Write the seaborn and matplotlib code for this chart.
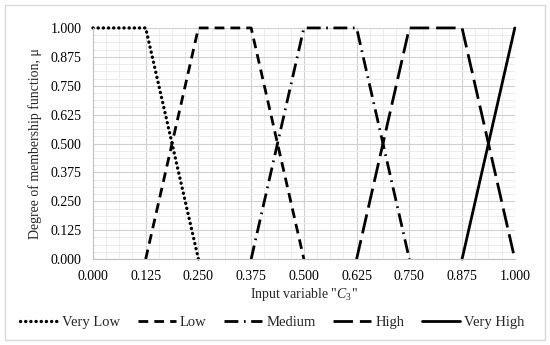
import seaborn as sns
import matplotlib.pyplot as plt
import matplotlib.ticker as mticker
from matplotlib.patches import Rectangle
import pandas as pd

# -----------------------------------
# Membership functions (breakpoints)
# -----------------------------------
very_low_x = [0.0, 0.125, 0.25]
very_low_y = [1.0, 1.0, 0.0]
low_x = [0.125, 0.25, 0.375, 0.5]
low_y = [0.0, 1.0, 1.0, 0.0]
medium_x = [0.375, 0.5, 0.625, 0.75]
medium_y = [0.0, 1.0, 1.0, 0.0]
high_x = [0.625, 0.75, 0.875, 1.0]
high_y = [0.0, 1.0, 1.0, 0.0]
very_high_x = [0.875, 1.0]
very_high_y = [0.0, 1.0]

labels = ["Very Low", "Low", "Medium", "High", "Very High"]
xs = [very_low_x, low_x, medium_x, high_x, very_high_x]
ys = [very_low_y, low_y, medium_y, high_y, very_high_y]

rows = []
for lab, xx, yy in zip(labels, xs, ys):
    for a, b in zip(xx, yy):
        rows.append({"set": lab, "x": a, "mu": b})
df = pd.DataFrame(rows)

sns.set_style("white")
plt.rcParams["font.family"] = ["Liberation Serif", "DejaVu Serif"]
plt.rcParams["mathtext.fontset"] = "custom"
plt.rcParams["mathtext.it"] = "Liberation Serif:italic"
plt.rcParams["mathtext.rm"] = "Liberation Serif"

# -----------------------------------
# Figure
# -----------------------------------
fig = plt.figure(figsize=(5.5, 3.45), dpi=100)
ax = fig.add_axes([0.169, 0.249, 0.767, 0.670])

fig.patches.append(Rectangle((0.009, 0.015), 0.982, 0.97, transform=fig.transFigure,
                             fill=False, edgecolor="#d9d9d9", linewidth=1))

dashes = {
    "Very Low": (0.05, 1.5),
    "Low": (3.5, 2.2),
    "Medium": (5, 2, 0.6, 2),
    "High": (7, 2.5),
    "Very High": "",
}
sns.lineplot(data=df, x="x", y="mu", hue="set", style="set", sort=False,
             units="set", estimator=None, palette=["black"] * 5,
             dashes=dashes, linewidth=2, ax=ax, legend=False)
for ln in ax.lines:
    ln.set_clip_on(False)
ax.lines[0].set_dash_capstyle("round")
ax.lines[0].set_linewidth(2.4)

# -----------------------------------
# Axes / grid
# -----------------------------------
ax.set_xlim(0, 1)
ax.set_ylim(0, 1)
ax.xaxis.set_major_locator(mticker.MultipleLocator(0.125))
ax.yaxis.set_major_locator(mticker.MultipleLocator(0.125))
ax.xaxis.set_minor_locator(mticker.MultipleLocator(0.03125))
ax.yaxis.set_minor_locator(mticker.MultipleLocator(0.03125))
ax.xaxis.set_major_formatter(mticker.FormatStrFormatter("%.3f"))
ax.yaxis.set_major_formatter(mticker.FormatStrFormatter("%.3f"))
ax.grid(which="major", color="#d0d0d0", linewidth=0.8)
ax.grid(which="minor", color="#ececec", linewidth=0.7)
ax.set_axisbelow(True)

for s in ["top", "right"]:
    ax.spines[s].set_visible(False)
for s in ["left", "bottom"]:
    ax.spines[s].set_color("#bfbfbf")
    ax.spines[s].set_linewidth(0.8)

ax.tick_params(which="major", direction="out", length=4, width=0.8,
               colors="#bfbfbf", labelsize=10, labelcolor="black", pad=4)
ax.tick_params(which="minor", length=0)

ax.set_xlabel(r'Input variable "$C_3$"', fontsize=10, labelpad=2)
ax.set_ylabel("Degree of membership function, μ", fontsize=10, labelpad=6)

# -----------------------------------
# Legend
# -----------------------------------
handles = []
for l in labels:
    if dashes[l] == "":
        h = plt.Line2D([], [], color="black", linewidth=2, linestyle="-")
    else:
        h = plt.Line2D([], [], color="black",
                       linewidth=2.4 if l == "Very Low" else 2,
                       linestyle="--", dashes=dashes[l],
                       dash_capstyle="round" if l == "Very Low" else "butt")
    handles.append(h)
fig.legend(handles, labels, loc="center", bbox_to_anchor=(0.495, 0.065),
           ncol=5, frameon=False, fontsize=10.5, handlelength=2.6,
           columnspacing=1.2, handletextpad=0.3)

plt.savefig("out.png", dpi=100)
